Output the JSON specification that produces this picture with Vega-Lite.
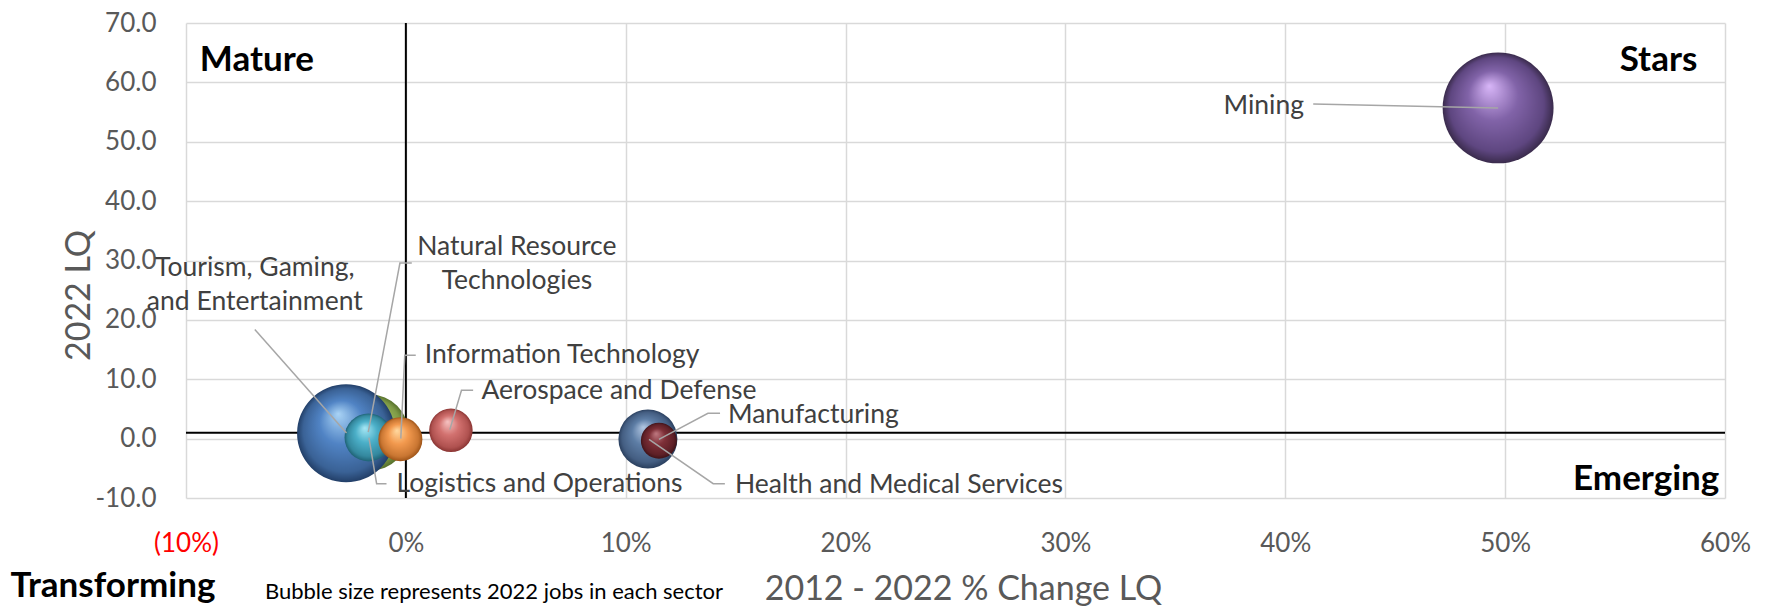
{
  "$schema": "https://vega.github.io/schema/vega-lite/v6.json",
  "width": 1539,
  "height": 475,
  "autosize": {"type": "none"},
  "padding": {"left": 186, "top": 23, "right": 42, "bottom": 109},
  "background": "white",
  "config": {
    "view": {"stroke": null},
    "font": "Lato",
    "axis": {
      "grid": true,
      "gridColor": "#D9D9D9",
      "gridWidth": 1.5,
      "domain": false,
      "ticks": false,
      "labelFlush": false,
      "labelFont": "Lato",
      "labelFontSize": 26,
      "labelColor": "#595959",
      "titleFont": "Lato",
      "titleFontSize": 34,
      "titleFontWeight": "normal",
      "titleColor": "#595959"
    }
  },
  "datasets": {
    "sectors": [
      {"sector": "Mining", "change": 0.4968, "lq": 55.7, "jobs": 12300},
      {"sector": "Natural Resource Technologies", "change": -0.0162, "lq": 1.0, "jobs": 5800},
      {"sector": "Tourism, Gaming, and Entertainment", "change": -0.0272, "lq": 0.9, "jobs": 9600},
      {"sector": "Logistics and Operations", "change": -0.017, "lq": 0.2, "jobs": 2300},
      {"sector": "Information Technology", "change": -0.0025, "lq": -0.1, "jobs": 1940},
      {"sector": "Aerospace and Defense", "change": 0.0205, "lq": 1.4, "jobs": 1890},
      {"sector": "Health and Medical Services", "change": 0.1101, "lq": -0.05, "jobs": 3480},
      {"sector": "Manufacturing", "change": 0.1151, "lq": -0.35, "jobs": 1300}
    ],
    "refs": [{"xref": 0, "yref": 1}],
    "leaders": [
      {"sector": "Mining", "seq": 0, "x": 0.4127, "y": 56.37},
      {"sector": "Mining", "seq": 1, "x": 0.4968, "y": 55.7},
      {"sector": "Tourism", "seq": 0, "x": -0.0687, "y": 18.38},
      {"sector": "Tourism", "seq": 1, "x": -0.027, "y": 0.94},
      {"sector": "Natural", "seq": 0, "x": 0.0027, "y": 29.56},
      {"sector": "Natural", "seq": 1, "x": -0.0027, "y": 29.56},
      {"sector": "Natural", "seq": 2, "x": -0.0171, "y": 1.11},
      {"sector": "IT", "seq": 0, "x": 0.0045, "y": 14.05},
      {"sector": "IT", "seq": 1, "x": -0.0005, "y": 14.05},
      {"sector": "IT", "seq": 2, "x": -0.0023, "y": 0.0},
      {"sector": "Aerospace", "seq": 0, "x": 0.0306, "y": 8.15},
      {"sector": "Aerospace", "seq": 1, "x": 0.0253, "y": 8.15},
      {"sector": "Aerospace", "seq": 2, "x": 0.02, "y": 1.52},
      {"sector": "Manufacturing", "seq": 0, "x": 0.1429, "y": 4.27},
      {"sector": "Manufacturing", "seq": 1, "x": 0.1374, "y": 4.27},
      {"sector": "Manufacturing", "seq": 2, "x": 0.1151, "y": -0.12},
      {"sector": "Health", "seq": 0, "x": 0.1106, "y": -0.12},
      {"sector": "Health", "seq": 1, "x": 0.1398, "y": -7.59},
      {"sector": "Health", "seq": 2, "x": 0.1451, "y": -7.59},
      {"sector": "Logistics", "seq": 0, "x": -0.0168, "y": 0.17},
      {"sector": "Logistics", "seq": 1, "x": -0.0133, "y": -7.59},
      {"sector": "Logistics", "seq": 2, "x": -0.0088, "y": -7.59}
    ],
    "labelsLeft": [
      {"text": "Information Technology", "x": 0.0086, "y": 14.05},
      {"text": "Aerospace and Defense", "x": 0.0344, "y": 8.03},
      {"text": "Manufacturing", "x": 0.1465, "y": 3.98},
      {"text": "Health and Medical Services", "x": 0.1497, "y": -7.74},
      {"text": "Logistics and Operations", "x": -0.0042, "y": -7.64}
    ],
    "labelsCenter": [
      {"text": "Tourism, Gaming,\nand Entertainment", "x": -0.0687, "y": 28.7},
      {"text": "Natural Resource\nTechnologies", "x": 0.0505, "y": 32.2}
    ],
    "labelsRight": [
      {"text": "Mining", "x": 0.4085, "y": 56.03}
    ],
    "quadLeft": [
      {"text": "Mature", "x": -0.0937, "y": 63.8},
      {"text": "Transforming", "x": -0.1798, "y": -24.9}
    ],
    "quadRight": [
      {"text": "Stars", "x": 0.5874, "y": 63.8},
      {"text": "Emerging", "x": 0.5974, "y": -6.86}
    ],
    "note": [
      {"text": "Bubble size represents 2022 jobs in each sector", "x": -0.0641, "y": -25.9}
    ]
  },
  "layer": [
    {
      "data": {"name": "sectors"},
      "mark": {"type": "point", "opacity": 0},
      "encoding": {
        "x": {
          "field": "change",
          "type": "quantitative",
          "scale": {"domain": [-0.1, 0.6], "nice": false, "zero": false},
          "axis": {
            "title": "2012 - 2022 % Change LQ",
            "values": [-0.1, 0, 0.1, 0.2, 0.3, 0.4, 0.5, 0.6],
            "labelExpr": "datum.value < -0.001 ? '(' + format(-datum.value, '.0%') + ')' : format(datum.value, '.0%')",
            "labelColor": {"condition": {"test": "datum.value < -0.001", "value": "#FF0000"}, "value": "#595959"},
            "labelPadding": 32,
            "titleX": 777,
            "titleY": 91,
            "titleBaseline": "middle",
            "titleAlign": "center"
          }
        },
        "y": {
          "field": "lq",
          "type": "quantitative",
          "scale": {"domain": [-10, 70], "nice": false, "zero": false},
          "axis": {
            "title": "2022 LQ",
            "values": [-10, 0, 10, 20, 30, 40, 50, 60, 70],
            "labelExpr": "(datum.value < 0 ? '-' : '') + format(abs(datum.value), '.1f')",
            "labelPadding": 30,
            "titleX": -107,
            "titleY": 272,
            "titleAngle": -90,
            "titleBaseline": "middle",
            "titleAlign": "center"
          }
        }
      }
    },
    {
      "data": {"name": "refs"},
      "mark": {"type": "rule", "color": "#000000", "strokeWidth": 2},
      "encoding": {"x": {"field": "xref", "type": "quantitative"}}
    },
    {
      "data": {"name": "refs"},
      "mark": {"type": "rule", "color": "#000000", "strokeWidth": 2},
      "encoding": {"y": {"field": "yref", "type": "quantitative"}}
    },
    {
      "data": {"name": "sectors"},
      "transform": [{"filter": "datum.sector === 'Mining'"}],
      "mark": {"type": "circle", "opacity": 1, "fill": {"gradient": "radial", "x1": 0.42, "y1": 0.3, "r1": 0, "x2": 0.5, "y2": 0.5, "r2": 0.5, "stops": [{"offset": 0, "color": "#D8B6F8"}, {"offset": 0.45, "color": "#8163A8"}, {"offset": 0.85, "color": "#5E4680"}, {"offset": 1, "color": "#3A2B4C"}]}},
      "encoding": {
        "x": {"field": "change", "type": "quantitative"},
        "y": {"field": "lq", "type": "quantitative"},
        "size": {"field": "jobs", "type": "quantitative", "scale": {"domain": [0, 12100], "range": [0, 12100]}, "legend": null}
      }
    },
    {
      "data": {"name": "sectors"},
      "transform": [{"filter": "datum.sector === 'Natural Resource Technologies'"}],
      "mark": {"type": "circle", "opacity": 1, "fill": {"gradient": "radial", "x1": 0.42, "y1": 0.3, "r1": 0, "x2": 0.5, "y2": 0.5, "r2": 0.5, "stops": [{"offset": 0, "color": "#E2F0B0"}, {"offset": 0.45, "color": "#A3C062"}, {"offset": 0.85, "color": "#7E9A46"}, {"offset": 1, "color": "#56702C"}]}},
      "encoding": {
        "x": {"field": "change", "type": "quantitative"},
        "y": {"field": "lq", "type": "quantitative"},
        "size": {"field": "jobs", "type": "quantitative", "legend": null}
      }
    },
    {
      "data": {"name": "sectors"},
      "transform": [{"filter": "datum.sector === 'Tourism, Gaming, and Entertainment'"}],
      "mark": {"type": "circle", "opacity": 1, "fill": {"gradient": "radial", "x1": 0.42, "y1": 0.3, "r1": 0, "x2": 0.5, "y2": 0.5, "r2": 0.5, "stops": [{"offset": 0, "color": "#A9D3F5"}, {"offset": 0.45, "color": "#5083C4"}, {"offset": 0.85, "color": "#3A6296"}, {"offset": 1, "color": "#223F68"}]}},
      "encoding": {
        "x": {"field": "change", "type": "quantitative"},
        "y": {"field": "lq", "type": "quantitative"},
        "size": {"field": "jobs", "type": "quantitative", "legend": null}
      }
    },
    {
      "data": {"name": "sectors"},
      "transform": [{"filter": "datum.sector === 'Logistics and Operations'"}],
      "mark": {"type": "circle", "opacity": 1, "fill": {"gradient": "radial", "x1": 0.42, "y1": 0.3, "r1": 0, "x2": 0.5, "y2": 0.5, "r2": 0.5, "stops": [{"offset": 0, "color": "#A8E8F5"}, {"offset": 0.45, "color": "#4BAFC8"}, {"offset": 0.85, "color": "#34889E"}, {"offset": 1, "color": "#1F6275"}]}},
      "encoding": {
        "x": {"field": "change", "type": "quantitative"},
        "y": {"field": "lq", "type": "quantitative"},
        "size": {"field": "jobs", "type": "quantitative", "legend": null}
      }
    },
    {
      "data": {"name": "sectors"},
      "transform": [{"filter": "datum.sector === 'Information Technology'"}],
      "mark": {"type": "circle", "opacity": 1, "fill": {"gradient": "radial", "x1": 0.42, "y1": 0.3, "r1": 0, "x2": 0.5, "y2": 0.5, "r2": 0.5, "stops": [{"offset": 0, "color": "#FFD9A0"}, {"offset": 0.45, "color": "#F2994E"}, {"offset": 0.85, "color": "#C97632"}, {"offset": 1, "color": "#9E5418"}]}},
      "encoding": {
        "x": {"field": "change", "type": "quantitative"},
        "y": {"field": "lq", "type": "quantitative"},
        "size": {"field": "jobs", "type": "quantitative", "legend": null}
      }
    },
    {
      "data": {"name": "sectors"},
      "transform": [{"filter": "datum.sector === 'Aerospace and Defense'"}],
      "mark": {"type": "circle", "opacity": 1, "fill": {"gradient": "radial", "x1": 0.42, "y1": 0.3, "r1": 0, "x2": 0.5, "y2": 0.5, "r2": 0.5, "stops": [{"offset": 0, "color": "#F6C3C2"}, {"offset": 0.45, "color": "#D2716F"}, {"offset": 0.85, "color": "#B05250"}, {"offset": 1, "color": "#8A3533"}]}},
      "encoding": {
        "x": {"field": "change", "type": "quantitative"},
        "y": {"field": "lq", "type": "quantitative"},
        "size": {"field": "jobs", "type": "quantitative", "legend": null}
      }
    },
    {
      "data": {"name": "sectors"},
      "transform": [{"filter": "datum.sector === 'Health and Medical Services'"}],
      "mark": {"type": "circle", "opacity": 1, "fill": {"gradient": "radial", "x1": 0.42, "y1": 0.3, "r1": 0, "x2": 0.5, "y2": 0.5, "r2": 0.5, "stops": [{"offset": 0, "color": "#B2C7E2"}, {"offset": 0.45, "color": "#5D7DA5"}, {"offset": 0.85, "color": "#445E82"}, {"offset": 1, "color": "#2A3F5E"}]}},
      "encoding": {
        "x": {"field": "change", "type": "quantitative"},
        "y": {"field": "lq", "type": "quantitative"},
        "size": {"field": "jobs", "type": "quantitative", "legend": null}
      }
    },
    {
      "data": {"name": "sectors"},
      "transform": [{"filter": "datum.sector === 'Manufacturing'"}],
      "mark": {"type": "circle", "opacity": 1, "fill": {"gradient": "radial", "x1": 0.42, "y1": 0.3, "r1": 0, "x2": 0.5, "y2": 0.5, "r2": 0.5, "stops": [{"offset": 0, "color": "#C07A82"}, {"offset": 0.45, "color": "#7D2F37"}, {"offset": 0.85, "color": "#5E2027"}, {"offset": 1, "color": "#3F1318"}]}},
      "encoding": {
        "x": {"field": "change", "type": "quantitative"},
        "y": {"field": "lq", "type": "quantitative"},
        "size": {"field": "jobs", "type": "quantitative", "legend": null}
      }
    },
    {
      "data": {"name": "leaders"},
      "mark": {"type": "line", "color": "#A6A6A6", "strokeWidth": 1.5},
      "encoding": {
        "x": {"field": "x", "type": "quantitative"},
        "y": {"field": "y", "type": "quantitative"},
        "detail": {"field": "sector", "type": "nominal"},
        "order": {"field": "seq", "type": "quantitative"}
      }
    },
    {
      "data": {"name": "labelsLeft"},
      "mark": {"type": "text", "align": "left", "baseline": "middle", "fontSize": 26.5, "color": "#404040", "font": "Lato"},
      "encoding": {
        "x": {"field": "x", "type": "quantitative"},
        "y": {"field": "y", "type": "quantitative"},
        "text": {"field": "text"}
      }
    },
    {
      "data": {"name": "labelsCenter"},
      "mark": {"type": "text", "align": "center", "baseline": "middle", "fontSize": 26.5, "lineHeight": 34, "lineBreak": "\n", "color": "#404040", "font": "Lato"},
      "encoding": {
        "x": {"field": "x", "type": "quantitative"},
        "y": {"field": "y", "type": "quantitative"},
        "text": {"field": "text"}
      }
    },
    {
      "data": {"name": "labelsRight"},
      "mark": {"type": "text", "align": "right", "baseline": "middle", "fontSize": 26.5, "color": "#404040", "font": "Lato"},
      "encoding": {
        "x": {"field": "x", "type": "quantitative"},
        "y": {"field": "y", "type": "quantitative"},
        "text": {"field": "text"}
      }
    },
    {
      "data": {"name": "quadLeft"},
      "mark": {"type": "text", "align": "left", "baseline": "middle", "fontSize": 35, "fontWeight": "bold", "color": "#000000", "font": "Lato"},
      "encoding": {
        "x": {"field": "x", "type": "quantitative"},
        "y": {"field": "y", "type": "quantitative"},
        "text": {"field": "text"}
      }
    },
    {
      "data": {"name": "quadRight"},
      "mark": {"type": "text", "align": "right", "baseline": "middle", "fontSize": 35, "fontWeight": "bold", "color": "#000000", "font": "Lato"},
      "encoding": {
        "x": {"field": "x", "type": "quantitative"},
        "y": {"field": "y", "type": "quantitative"},
        "text": {"field": "text"}
      }
    },
    {
      "data": {"name": "note"},
      "mark": {"type": "text", "align": "left", "baseline": "middle", "fontSize": 22, "color": "#000000", "font": "Lato"},
      "encoding": {
        "x": {"field": "x", "type": "quantitative"},
        "y": {"field": "y", "type": "quantitative"},
        "text": {"field": "text"}
      }
    }
  ]
}
